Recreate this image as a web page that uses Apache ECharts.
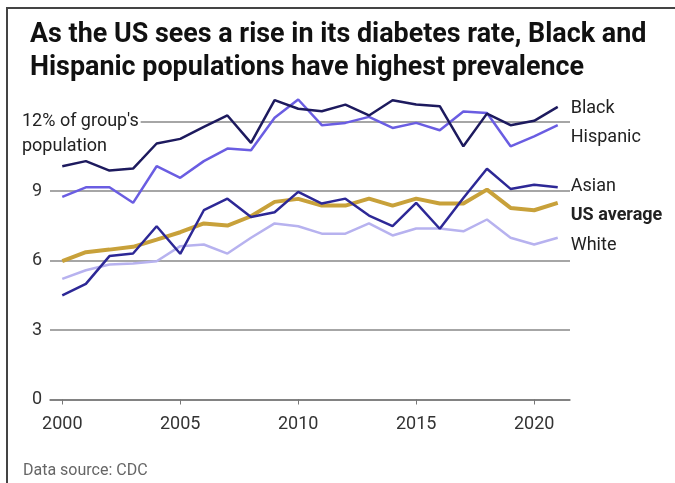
<!DOCTYPE html>
<html>
<head>
<meta charset="utf-8">
<script src="https://cdn.jsdelivr.net/npm/echarts@6/dist/echarts.min.js"></script>
<style>html,body{margin:0;padding:0;background:#fff}#c{width:675px;height:483px}</style>
</head>
<body>
<div id="c"></div>
<script>
const years = [2000,2001,2002,2003,2004,2005,2006,2007,2008,2009,2010,2011,2012,2013,2014,2015,2016,2017,2018,2019,2020,2021];
const black    = [10.07,10.29,9.88,9.97,11.05,11.25,11.77,12.26,11.08,12.92,12.55,12.44,12.73,12.26,12.92,12.73,12.66,10.93,12.34,11.84,12.03,12.63];
const hispanic = [8.75,9.16,9.16,8.49,10.07,9.57,10.29,10.83,10.76,12.16,12.95,11.84,11.94,12.2,11.72,11.94,11.62,12.43,12.37,10.93,11.36,11.84];
const asian    = [4.49,4.99,6.19,6.3,7.48,6.29,8.17,8.67,7.88,8.08,8.96,8.46,8.67,7.94,7.48,8.49,7.37,8.7,9.96,9.09,9.27,9.16];
const usAvg    = [5.97,6.36,6.47,6.59,6.9,7.22,7.6,7.51,7.91,8.53,8.66,8.37,8.37,8.67,8.37,8.67,8.46,8.46,9.06,8.27,8.17,8.49];
const white    = [5.21,5.58,5.83,5.87,5.97,6.62,6.69,6.3,6.98,7.6,7.48,7.16,7.16,7.6,7.08,7.38,7.38,7.26,7.77,6.98,6.69,6.98];
const xTicks = [2000,2005,2010,2015,2020];
const yTicks = [0,3,6,9,12];
const seriesNames = ['Black','Hispanic','Asian','US average','White'];

const FONT = 'Roboto, "Noto Sans", sans-serif';
function pairs(arr){ return years.map((y,i)=>[y,arr[i]]); }

const chart = echarts.init(document.getElementById('c'), null, {renderer:'canvas'});

function mk(name, data, color, width, dy, bold, z){
  return {
    name, type:'line', data: pairs(data), symbol:'none', clip:false, z,
    lineStyle:{color, width},
    endLabel:{show:true, formatter: name, color:'#222', fontSize:18, fontFamily:FONT,
      fontWeight: bold ? 'bold' : 'normal', distance: 13, offset:[0, dy]},
    emphasis:{disabled:true}
  };
}

chart.setOption({
  animation:false,
  backgroundColor:'#fff',
  title:{
    text:"As the US sees a rise in its diabetes rate, Black and\nHispanic populations have highest prevalence",
    left:25, top:14,
    textStyle:{fontSize:26.9, fontWeight:'bold', color:'#111', fontFamily:FONT, lineHeight:33}
  },
  grid:{left:50, right:105, top:121.5, bottom:83.5},
  xAxis:{
    type:'value', min:1999.48, max:2021.52,
    axisLine:{show:true, lineStyle:{color:'#777', width:1.5}},
    axisTick:{show:true, customValues:xTicks, length:5, lineStyle:{color:'#777'}},
    axisLabel:{customValues:xTicks, formatter: v=>String(v), color:'#333', fontSize:18, fontFamily:FONT, margin:16},
    splitLine:{show:false}
  },
  yAxis:{
    type:'value', min:0, max:12, interval:3,
    axisLine:{show:false}, axisTick:{show:false},
    axisLabel:{formatter: v => v===12 ? '' : String(v), color:'#333', fontSize:18, fontFamily:FONT, margin:8},
    splitLine:{lineStyle:{color:'#888', width:1.5}}
  },
  graphic:[
    {type:'rect', shape:{x:6, y:7, width:2, height:480}, style:{fill:'#444'}},
    {type:'rect', shape:{x:6, y:7, width:675, height:2}, style:{fill:'#444'}},
    {type:'text', left:20, top:109, z:10,
      style:{text:"12% of group's\npopulation", fill:'#222', fontSize:18, fontFamily:FONT, lineHeight:25,
        backgroundColor:'#fff', padding:[0,2,0,2]}},
    {type:'text', left:23, top:463, style:{text:'Data source: CDC', fill:'#666', fontSize:16, fontFamily:FONT}}
  ],
  series:[
    mk(seriesNames[4], white, '#b7b2ef', 2.5, 8, false, 2),
    mk(seriesNames[3], usAvg, '#c8a13a', 4, 13, true, 3),
    mk(seriesNames[2], asian, '#2d2896', 2.5, -1, false, 4),
    mk(seriesNames[1], hispanic, '#6a5de2', 2.5, 12, false, 5),
    mk(seriesNames[0], black, '#1d1a5e', 2.5, 2, false, 6)
  ]
});
</script>
</body>
</html>
